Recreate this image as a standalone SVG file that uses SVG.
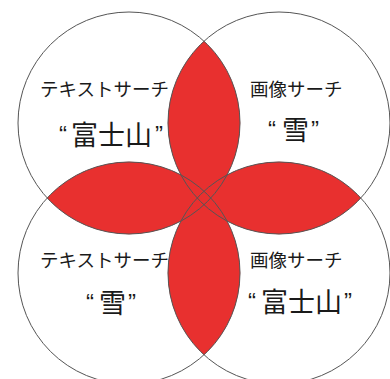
<svg xmlns="http://www.w3.org/2000/svg" width="390" height="379" viewBox="0 0 390 379">
<style>
.lens{fill:#e8302f;stroke:none}
.ring{fill:none;stroke:#555;stroke-width:1}
.kt{font-family:"Noto Sans CJK JP",sans-serif;font-size:18.5px;fill:#1a1a1a}
.big{font-family:"Noto Sans CJK JP",sans-serif;font-size:27px;fill:#1a1a1a}
.q{font-family:"Liberation Sans",sans-serif;font-size:24px;fill:#1a1a1a}
</style>
<rect width="390" height="379" fill="#fff"/>
<g id="lenses">
<path class="lens" d="M204,41 A111,111 0 0,1 204,205 A111,111 0 0,1 204,41 Z"/>
<path class="lens" d="M204,191 A111,111 0 0,1 204,355 A111,111 0 0,1 204,191 Z"/>
<path class="lens" d="M47,198 A111,111 0 0,1 211,198 A111,111 0 0,1 47,198 Z"/>
<path class="lens" d="M197,198 A111,111 0 0,1 361,198 A111,111 0 0,1 197,198 Z"/>
</g>
<g id="connectors"></g>
<g id="tl">
<circle class="ring" cx="129" cy="123" r="111"/>
<text class="kt" x="40" y="96">テキストサーチ</text>
<text class="q" x="59" y="143">“</text>
<text class="big" x="71" y="145">富士山</text>
<text class="q" x="155" y="143">”</text>
</g>
<g id="tr">
<circle class="ring" cx="279" cy="123" r="111"/>
<text class="kt" x="250" y="96">画像サーチ</text>
<text class="q" x="268" y="138">“</text>
<text class="big" x="282" y="140">雪</text>
<text class="q" x="311" y="138">”</text>
</g>
<g id="bl">
<circle class="ring" cx="129" cy="273" r="111"/>
<text class="kt" x="40" y="267">テキストサーチ</text>
<text class="q" x="86" y="311">“</text>
<text class="big" x="99" y="313">雪</text>
<text class="q" x="128" y="311">”</text>
</g>
<g id="br">
<circle class="ring" cx="279" cy="273" r="111"/>
<text class="kt" x="250" y="267">画像サーチ</text>
<text class="q" x="248" y="310">“</text>
<text class="big" x="261" y="312">富士山</text>
<text class="q" x="344" y="310">”</text>
</g>
</svg>
